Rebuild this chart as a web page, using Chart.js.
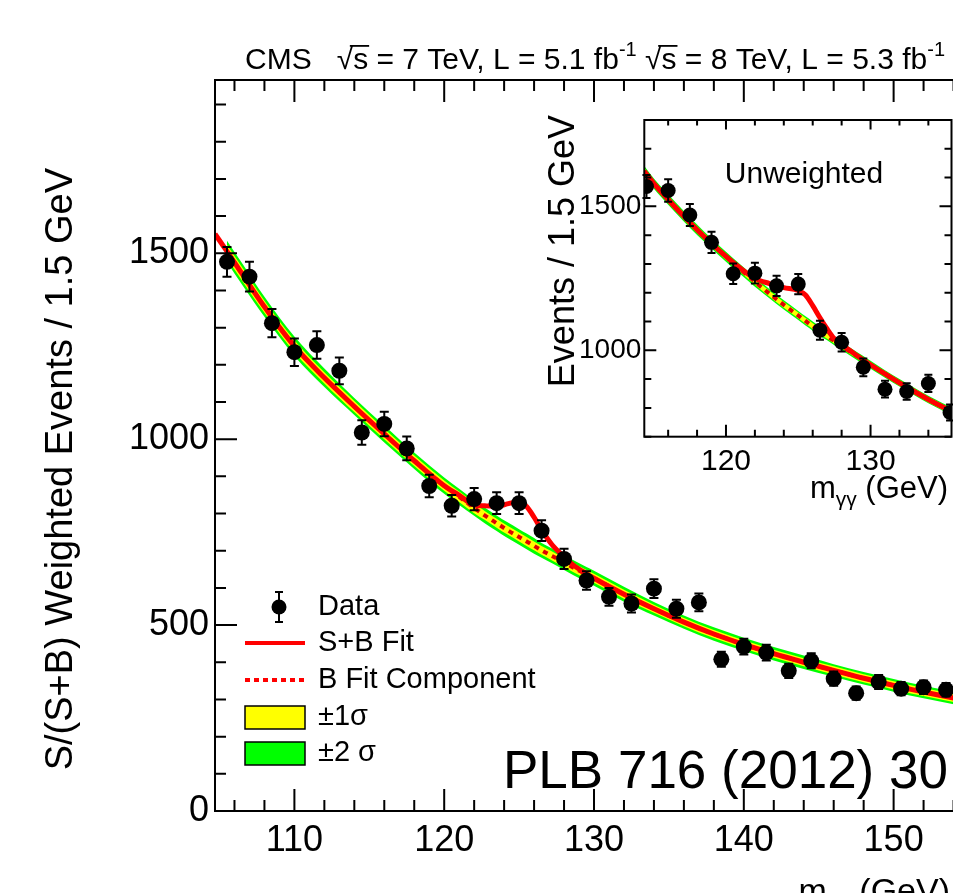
<!DOCTYPE html>
<html>
<head>
<meta charset="UTF-8" />
<title>CMS diphoton mass spectrum</title>
<script src="https://cdn.jsdelivr.net/npm/chart.js@4.4.2/dist/chart.umd.min.js"></script>
<style>
    html, body { margin: 0; padding: 0; background: #fff; overflow: hidden; }
    #wrap { position: relative; width: 953px; height: 893px; overflow: hidden; }
    #mainChart { position: absolute; left: 0; top: 0; }
    #insetChart { position: absolute; left: 540px; top: 100px; }
</style>
</head>
<body>
<div id="wrap">
    <canvas id="mainChart" width="1000" height="910"></canvas>
    <canvas id="insetChart" width="430" height="410"></canvas>
</div>
<script>
// --- main plot: S/(S+B) weighted events ---
var massBins = [105.5, 107, 108.5, 110, 111.5, 113, 114.5, 116, 117.5, 119, 120.5, 122, 123.5, 125, 126.5,
    128, 129.5, 131, 132.5, 134, 135.5, 137, 138.5, 140, 141.5, 143, 144.5, 146, 147.5, 149, 150.5, 152, 153.5];
var weightedEvents = [1477, 1437, 1312, 1234, 1253, 1184, 1018, 1041, 975, 874, 821, 839, 828, 828, 754,
    678, 620, 576, 558, 598, 544, 561, 408, 442, 426, 377, 404, 356, 317, 347, 329, 333, 326];
var weightedErrors = [40, 40, 38, 37, 37, 36, 33, 33, 32, 30, 29, 30, 29, 29, 28,
    27, 25, 24, 24, 25, 24, 24, 20, 21, 21, 19, 20, 19, 18, 19, 18, 18, 18];

var fitMass = [104.7, 105.5, 106.5, 108, 110, 112, 114, 116, 118, 120, 121, 122, 122.7, 123.5, 124.2, 125, 125.5,
    126, 126.5, 127.2, 128, 128.6, 129.5, 130, 132, 134, 136, 138, 140, 142, 144, 146, 148, 150, 152, 154, 156.1];
var bkgFit = [1552, 1505, 1445, 1356, 1250, 1165, 1088, 1014, 942, 875, 845, 815, 795, 774, 756, 737, 725,
    713, 701, 686, 668, 655, 636, 626, 583, 544, 508, 476, 448, 423, 400, 378, 357, 338, 320, 304, 289];
var sigBkgFit = [1552, 1505, 1445, 1356, 1250, 1165, 1088, 1014, 942, 875, 849, 823, 821, 819, 826, 832, 819,
    790, 756, 716, 684, 662, 638, 626, 583, 544, 508, 476, 448, 423, 400, 378, 357, 338, 320, 304, 289];
var band1Half = [18, 18, 18, 16, 16, 15, 15, 14, 14, 14, 14, 14, 12, 12, 12, 12, 12, 12, 12, 12, 12, 12, 12, 12, 12,
    11, 11, 11, 11, 11, 11, 11, 11, 11, 11, 11, 11];
var band2Half = [29, 29, 29, 27, 26, 25, 23, 23, 22, 22, 22, 21, 21, 21, 21, 21, 21, 21, 20, 20, 20, 20, 20, 20, 20,
    18, 18, 18, 18, 18, 18, 17, 17, 17, 17, 17, 17];

var xTicksMain = [110, 120, 130, 140, 150];
var yTicksMain = [0, 500, 1000, 1500];

// --- inset: unweighted events ---
var insetMass = [114.5, 116, 117.5, 119, 120.5, 122, 123.5, 125, 126.5, 128, 129.5, 131, 132.5, 134, 135.5];
var insetEvents = [1569, 1555, 1470, 1375, 1266, 1268, 1224, 1230, 1070, 1028, 941, 865, 857, 885, 784];
var insetErrors = [40, 39, 38, 37, 36, 36, 35, 35, 33, 32, 31, 29, 29, 30, 28];

var insetFitMass = [114.35, 115, 116, 117, 118, 119, 120, 121, 122, 123, 124, 125, 125.5, 126, 126.5,
    127, 127.5, 128, 129, 130, 131, 132, 133, 134, 135, 135.6];
var insetBkg = [1622, 1580, 1524, 1470, 1419, 1371, 1325, 1281, 1238, 1197, 1158, 1121, 1102, 1084, 1066,
    1049, 1032, 1015, 982, 950, 918, 887, 858, 829, 803, 789];
var insetSigBkg = [1622, 1580, 1524, 1470, 1419, 1371, 1326, 1285, 1250, 1232, 1218, 1208, 1192, 1155, 1113,
    1074, 1040, 1020, 984, 950, 918, 887, 858, 829, 803, 789];
var insetBand1Half = [11, 11, 11, 11, 11, 11, 10, 10, 10, 10, 10, 10, 10, 10, 10, 9, 9, 9, 9, 9, 9, 9, 9, 9, 9, 9];
var insetBand2Half = [18, 18, 18, 18, 18, 17, 17, 17, 17, 16, 16, 16, 16, 16, 16, 14, 14, 14, 14, 14, 13, 13, 13, 13, 13, 13];

var xTicksInset = [120, 130];
var yTicksInset = [1000, 1500];

var FONT = '"Liberation Sans", Arial, Helvetica, sans-serif';
var RED = '#ff0000', YELLOW = '#ffff00', GREEN = '#00ff00';

function pts(xs, ys, from) {
    var out = [];
    for (var i = from || 0; i < xs.length; i++) out.push({ x: xs[i], y: ys[i] });
    return out;
}

function edge(xs, ys, half, sign, from) {
    var out = [];
    for (var i = from || 0; i < xs.length; i++) out.push({ x: xs[i], y: ys[i] + sign * half[i] });
    return out;
}

function curve(data, extra) {
    var d = { type: 'line', data: data, pointRadius: 0, borderWidth: 0, fill: false, cubicInterpolationMode: 'monotone' };
    for (var k in extra) d[k] = extra[k];
    return d;
}

// dataset 0 is drawn on top
function buildDatasets(mx, my, fx, bkg, sb, b1, b2, bandFrom, lw, radius) {
    return [
        { type: 'scatter', data: pts(mx, my), pointRadius: radius, pointBackgroundColor: '#000', pointBorderWidth: 0 },
        curve(pts(fx, sb), { borderColor: RED, borderWidth: lw }),
        curve(pts(fx, bkg, bandFrom), { borderColor: '#e00000', borderWidth: lw - 1, borderDash: [5, 5] }),
        curve(edge(fx, bkg, b1, 1, bandFrom), { fill: '+1', backgroundColor: YELLOW }),
        curve(edge(fx, bkg, b1, -1, bandFrom), {}),
        curve(edge(fx, bkg, b2, 1, bandFrom), { fill: '+1', backgroundColor: GREEN }),
        curve(edge(fx, bkg, b2, -1, bandFrom), {})
    ];
}

function errorBars(errors, cap) {
    return {
        id: 'errorBars',
        beforeDatasetDraw: function (chart, args) {
            if (args.index !== 0) return;
            var ctx = chart.ctx, ys = chart.scales.y, ds = chart.data.datasets[0];
            ctx.save();
            ctx.strokeStyle = '#000';
            ctx.lineWidth = 2;
            args.meta.data.forEach(function (p, i) {
                var v = ds.data[i].y;
                var t = ys.getPixelForValue(v + errors[i]), b = ys.getPixelForValue(v - errors[i]);
                ctx.beginPath();
                ctx.moveTo(p.x, t); ctx.lineTo(p.x, b);
                ctx.moveTo(p.x - cap, t); ctx.lineTo(p.x + cap, t);
                ctx.moveTo(p.x - cap, b); ctx.lineTo(p.x + cap, b);
                ctx.stroke();
            });
            ctx.restore();
        }
    };
}

// ROOT style frame with inward ticks on every side
function frameTicks(o) {
    return {
        id: 'frameTicks',
        afterDatasetsDraw: function (chart) {
            var a = chart.chartArea, ctx = chart.ctx, xs = chart.scales.x, ys = chart.scales.y;
            ctx.save();
            ctx.strokeStyle = '#000';
            ctx.lineWidth = 2;
            ctx.strokeRect(a.left, a.top, a.right - a.left, a.bottom - a.top);
            ctx.beginPath();
            var k, v, p, len;
            for (k = Math.ceil(xs.min / o.xMinor); k * o.xMinor <= xs.max; k++) {
                v = k * o.xMinor;
                p = xs.getPixelForValue(v);
                len = (v % o.xMajor === 0) ? o.major : o.minor;
                ctx.moveTo(p, a.bottom); ctx.lineTo(p, a.bottom - len);
                ctx.moveTo(p, a.top); ctx.lineTo(p, a.top + len * o.topScale);
            }
            for (k = Math.ceil(ys.min / o.yMinor); k * o.yMinor <= ys.max; k++) {
                v = k * o.yMinor;
                p = ys.getPixelForValue(v);
                len = (v % o.yMajor === 0) ? o.major : o.minor;
                ctx.moveTo(a.left, p); ctx.lineTo(a.left + len, p);
                ctx.moveTo(a.right, p); ctx.lineTo(a.right - len, p);
            }
            ctx.stroke();
            ctx.restore();
        }
    };
}

// text with optional sub/superscripts and sqrt
function drawRich(ctx, x, y, parts, size, align) {
    var base = size + 'px ' + FONT, small = Math.round(size * 0.68) + 'px ' + FONT;
    function run(draw) {
        var cx = x;
        parts.forEach(function (p) {
            if (p.sup || p.sub) {
                ctx.font = small;
                if (draw) ctx.fillText(p.t, cx, y + (p.sup ? -size * 0.42 : size * 0.25));
                cx += ctx.measureText(p.t).width;
            } else if (p.root) {
                ctx.font = base;
                var rw = ctx.measureText('\u221A').width, sw = ctx.measureText(p.t).width;
                if (draw) {
                    ctx.fillText('\u221A', cx, y);
                    ctx.fillText(p.t, cx + rw, y);
                    ctx.fillRect(cx + rw * 0.8, y - size * 0.8, rw * 0.2 + sw + 1, Math.max(1.5, size * 0.06));
                }
                cx += rw + sw;
            } else {
                ctx.font = base;
                if (draw) ctx.fillText(p.t, cx, y);
                cx += ctx.measureText(p.t).width;
            }
        });
        return cx - x;
    }
    ctx.textAlign = 'left';
    if (align === 'right') x -= run(false);
    run(true);
}

var massTitle = [{ t: 'm' }, { t: '\u03B3\u03B3', sub: true }, { t: ' (GeV)' }];

function textPlugin(draw) {
    return {
        id: 'texts',
        afterDraw: function (chart) {
            var ctx = chart.ctx;
            ctx.save();
            ctx.fillStyle = '#000';
            ctx.strokeStyle = '#000';
            ctx.textBaseline = 'alphabetic';
            draw(ctx, chart);
            ctx.restore();
        }
    };
}

function rotatedTitle(ctx, text, x, yEnd, size) {
    ctx.save();
    ctx.translate(x, yEnd);
    ctx.rotate(-Math.PI / 2);
    ctx.font = size + 'px ' + FONT;
    ctx.textAlign = 'right';
    ctx.textBaseline = 'middle';
    ctx.fillText(text, 0, 0);
    ctx.restore();
}

var mainTexts = textPlugin(function (ctx) {
    drawRich(ctx, 245, 69, [
        { t: 'CMS   ' }, { t: 's', root: true }, { t: ' = 7 TeV, L = 5.1 fb' }, { t: '-1', sup: true },
        { t: ' ' }, { t: 's', root: true }, { t: ' = 8 TeV, L = 5.3 fb' }, { t: '-1', sup: true }
    ], 30);
    rotatedTitle(ctx, 'S/(S+B) Weighted Events / 1.5 GeV', 62, 168, 38);
    drawRich(ctx, 950, 902, massTitle, 34, 'right');

    // legend
    ctx.lineWidth = 2;
    ctx.beginPath();
    ctx.moveTo(279, 592); ctx.lineTo(279, 622);
    ctx.moveTo(275, 592); ctx.lineTo(283, 592);
    ctx.moveTo(275, 622); ctx.lineTo(283, 622);
    ctx.stroke();
    ctx.beginPath(); ctx.arc(279, 607, 7.5, 0, Math.PI * 2); ctx.fill();

    ctx.strokeStyle = RED;
    ctx.lineWidth = 4;
    ctx.beginPath(); ctx.moveTo(245, 643); ctx.lineTo(305, 643); ctx.stroke();
    ctx.setLineDash([5, 4]);
    ctx.beginPath(); ctx.moveTo(245, 680); ctx.lineTo(305, 680); ctx.stroke();
    ctx.setLineDash([]);

    ctx.strokeStyle = '#000';
    ctx.lineWidth = 1.5;
    ctx.fillStyle = YELLOW; ctx.fillRect(245, 706, 60, 23); ctx.strokeRect(245, 706, 60, 23);
    ctx.fillStyle = GREEN; ctx.fillRect(245, 742, 60, 23); ctx.strokeRect(245, 742, 60, 23);

    ctx.fillStyle = '#000';
    ctx.font = '29px ' + FONT;
    ctx.textAlign = 'left';
    ctx.textBaseline = 'middle';
    ctx.fillText('Data', 318, 607);
    ctx.fillText('S+B Fit', 318, 643);
    ctx.fillText('B Fit Component', 318, 680);
    ctx.fillText('\u00B11\u03C3', 318, 717);
    ctx.fillText('\u00B12 \u03C3', 318, 753);

    ctx.textBaseline = 'alphabetic';
    ctx.font = '53px ' + FONT;
    ctx.fillText('PLB 716 (2012) 30', 503, 788);
});

var insetTexts = textPlugin(function (ctx) {
    ctx.font = '30px ' + FONT;
    ctx.textAlign = 'center';
    ctx.fillText('Unweighted', 264, 83);
    rotatedTitle(ctx, 'Events / 1.5 GeV', 24, 15, 36);
    drawRich(ctx, 408, 398, massTitle, 31, 'right');
});

function tickList(values) {
    return function (scale) {
        scale.ticks = values.map(function (v) { return { value: v }; });
    };
}

function axis(min, max, ticks, size, pad, fit) {
    return {
        type: 'linear', min: min, max: max,
        afterBuildTicks: tickList(ticks),
        afterFit: fit,
        grid: { display: false, drawTicks: false },
        border: { display: false },
        ticks: {
            padding: pad, color: '#000', autoSkip: false, maxRotation: 0,
            font: { family: FONT, size: size },
            callback: function (v) { return String(v); }
        }
    };
}

new Chart(document.getElementById('mainChart'), {
    type: 'scatter',
    data: {
        datasets: buildDatasets(massBins, weightedEvents, fitMass, bkgFit, sigBkgFit, band1Half, band2Half, 1, 5, 8)
    },
    options: {
        responsive: false, animation: false, devicePixelRatio: 1,
        layout: { padding: { top: 80, right: 15, left: 0, bottom: 0 } },
        plugins: { legend: { display: false }, tooltip: { enabled: false } },
        scales: {
            x: axis(104.7, 156.1, xTicksMain, 36, 8, function (s) { s.height = 99; }),
            y: axis(0, 1966, yTicksMain, 36, 6, function (s) { s.width = 215; })
        }
    },
    plugins: [errorBars(weightedErrors, 4.5),
        frameTicks({ xMinor: 2, xMajor: 10, yMinor: 100, yMajor: 500, major: 22, minor: 11, topScale: 1 }),
        mainTexts]
});

new Chart(document.getElementById('insetChart'), {
    type: 'scatter',
    data: {
        datasets: buildDatasets(insetMass, insetEvents, insetFitMass, insetBkg, insetSigBkg, insetBand1Half, insetBand2Half, 0, 5, 7.5)
    },
    options: {
        responsive: false, animation: false, devicePixelRatio: 1,
        layout: { padding: { top: 20, right: 18.5, left: 0, bottom: 0 } },
        plugins: { legend: { display: false }, tooltip: { enabled: false } },
        scales: {
            x: axis(114.35, 135.6, xTicksInset, 30, 7, function (s) { s.height = 73.3; }),
            y: axis(700, 1800, yTicksInset, 28, 3, function (s) { s.width = 104.3; })
        }
    },
    plugins: [errorBars(insetErrors, 4),
        frameTicks({ xMinor: 2, xMajor: 10, yMinor: 100, yMajor: 500, major: 12, minor: 7, topScale: 0.8 }),
        insetTexts]
});
</script>
</body>
</html>
